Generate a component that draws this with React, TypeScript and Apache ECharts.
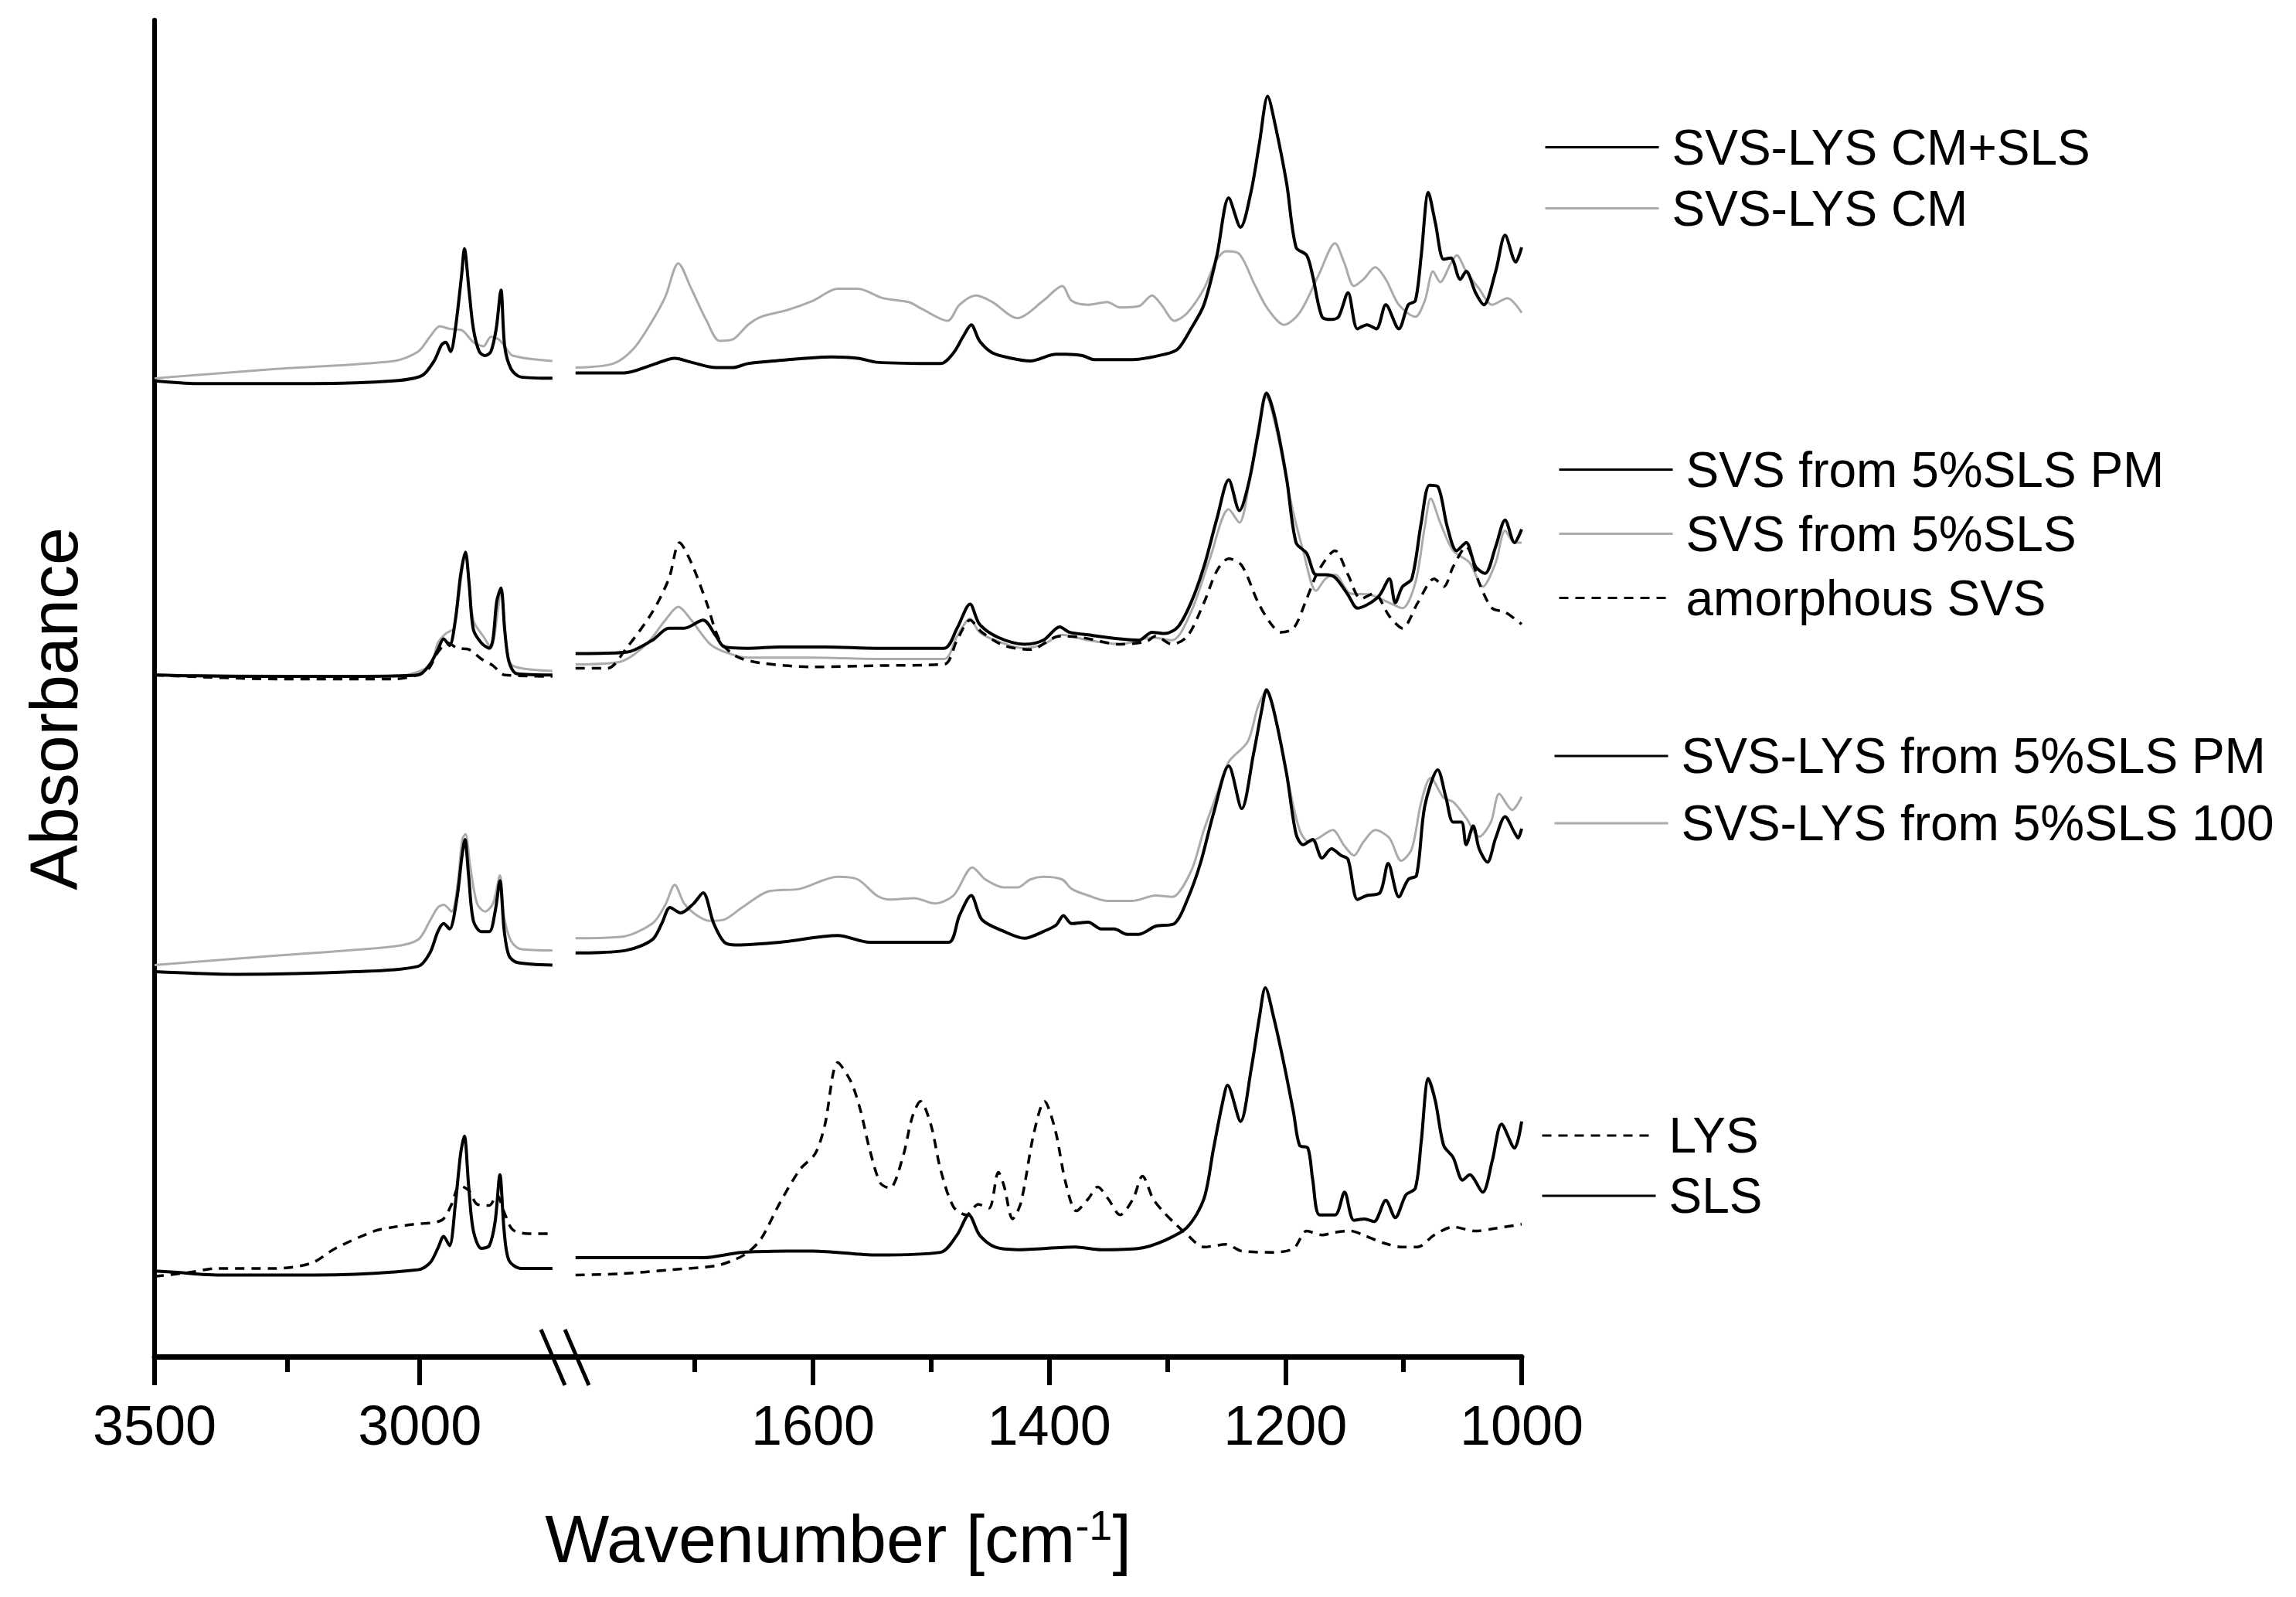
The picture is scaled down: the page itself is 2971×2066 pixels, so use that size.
import React, { useEffect, useRef } from "react";
import * as echarts from "echarts";

// ---------- axis ticks ----------
const highMajorTicks = [3500, 3000];
const highMinorTicks = [3250];
const fingerMajorTicks = [1600, 1400, 1200, 1000];
const fingerMinorTicks = [1700, 1500, 1300, 1100];
const highRange = [2725, 3500];
const fingerRange = [1000, 1810];
const absRange = [0, 10];

// ---------- spectra (wavenumber, offset absorbance) ----------
// SVS-LYS CM+SLS
const cmSlsHigh = [[3500,7.30],[3420,7.28],[3200,7.28],[3050,7.30],[2996,7.34],[2973,7.45],[2959,7.57],[2951,7.59],[2942,7.52],[2933,7.69],[2921,8.10],[2916,8.29],[2907,7.97],[2899,7.69],[2888,7.52],[2877,7.49],[2866,7.52],[2856,7.69],[2847,7.98],[2840,7.56],[2828,7.39],[2810,7.33],[2750,7.32]];
const cmSlsFinger = [[1801,7.36],[1760,7.36],[1736,7.42],[1717,7.47],[1703,7.44],[1682,7.40],[1668,7.40],[1655,7.43],[1633,7.45],[1584,7.48],[1562,7.47],[1546,7.44],[1492,7.43],[1481,7.51],[1473,7.63],[1466,7.72],[1459,7.60],[1448,7.51],[1432,7.47],[1416,7.45],[1394,7.50],[1386,7.50],[1372,7.49],[1362,7.46],[1329,7.46],[1302,7.50],[1291,7.54],[1280,7.69],[1269,7.87],[1258,8.24],[1248,8.67],[1238,8.45],[1229,8.72],[1222,9.08],[1215,9.43],[1209,9.23],[1199,8.78],[1191,8.30],[1182,8.24],[1177,8.09],[1169,7.78],[1161,7.76],[1155,7.78],[1147,7.96],[1139,7.69],[1131,7.72],[1123,7.69],[1115,7.87],[1104,7.69],[1096,7.87],[1090,7.90],[1085,8.24],[1079,8.71],[1073,8.48],[1066,8.21],[1060,8.22],[1052,8.06],[1047,8.12],[1039,7.96],[1032,7.87],[1022,8.12],[1014,8.39],[1005,8.19],[1000,8.30]];
// SVS-LYS CM
const cmHigh = [[3500,7.32],[3271,7.39],[3048,7.45],[3003,7.52],[2981,7.63],[2962,7.71],[2944,7.69],[2921,7.68],[2899,7.59],[2880,7.56],[2866,7.63],[2851,7.61],[2840,7.56],[2825,7.49],[2750,7.45]];
const cmFinger = [[1801,7.40],[1769,7.43],[1752,7.54],[1736,7.75],[1725,7.93],[1714,8.18],[1703,7.99],[1690,7.75],[1679,7.60],[1668,7.61],[1655,7.72],[1644,7.78],[1622,7.83],[1600,7.90],[1579,7.99],[1562,7.99],[1541,7.92],[1519,7.89],[1508,7.84],[1486,7.75],[1476,7.87],[1462,7.94],[1448,7.89],[1427,7.77],[1405,7.90],[1389,8.01],[1381,7.90],[1367,7.87],[1351,7.89],[1340,7.85],[1324,7.86],[1313,7.94],[1305,7.87],[1294,7.75],[1283,7.81],[1269,7.99],[1258,8.21],[1250,8.27],[1239,8.25],[1226,8.02],[1215,7.84],[1201,7.72],[1188,7.81],[1172,8.09],[1158,8.33],[1150,8.18],[1142,8.01],[1134,8.06],[1124,8.15],[1115,8.06],[1104,7.87],[1090,7.78],[1082,7.90],[1075,8.12],[1069,8.04],[1060,8.18],[1055,8.24],[1047,8.12],[1036,7.99],[1025,7.87],[1012,7.92],[1000,7.81]];
// SVS from 5%SLS PM
const svsPmHigh = [[3500,5.10],[3345,5.09],[3122,5.09],[3003,5.10],[2981,5.18],[2966,5.29],[2955,5.37],[2944,5.32],[2933,5.51],[2923,5.85],[2914,6.02],[2907,5.78],[2899,5.44],[2884,5.34],[2869,5.30],[2862,5.37],[2855,5.65],[2847,5.75],[2840,5.44],[2832,5.20],[2817,5.11],[2750,5.10]];
const svsPmFinger = [[1801,5.26],[1758,5.27],[1736,5.36],[1722,5.45],[1709,5.45],[1693,5.51],[1682,5.39],[1675,5.31],[1655,5.30],[1628,5.31],[1590,5.31],[1546,5.30],[1489,5.30],[1478,5.45],[1467,5.63],[1459,5.48],[1443,5.38],[1421,5.33],[1405,5.36],[1391,5.46],[1383,5.42],[1367,5.40],[1340,5.37],[1324,5.36],[1313,5.42],[1302,5.41],[1291,5.46],[1280,5.64],[1269,5.91],[1258,6.27],[1248,6.56],[1239,6.33],[1231,6.54],[1223,6.91],[1216,7.21],[1209,7.03],[1199,6.57],[1191,6.09],[1182,6.01],[1174,5.85],[1166,5.85],[1158,5.83],[1147,5.70],[1139,5.60],[1128,5.64],[1120,5.70],[1112,5.82],[1107,5.64],[1101,5.76],[1093,5.82],[1085,6.24],[1078,6.52],[1071,6.51],[1063,6.21],[1055,6.03],[1047,6.09],[1039,5.91],[1031,5.86],[1022,6.06],[1014,6.26],[1006,6.09],[1000,6.19]];
// SVS from 5%SLS
const svsSlsHigh = [[3500,5.10],[3048,5.09],[2981,5.17],[2966,5.34],[2951,5.41],[2936,5.45],[2914,5.99],[2899,5.51],[2877,5.37],[2866,5.30],[2847,5.71],[2836,5.30],[2825,5.17],[2750,5.13]];
const svsSlsFinger = [[1801,5.18],[1763,5.20],[1741,5.33],[1725,5.51],[1714,5.61],[1703,5.51],[1687,5.33],[1674,5.27],[1655,5.23],[1600,5.23],[1546,5.22],[1489,5.22],[1478,5.39],[1467,5.52],[1459,5.42],[1443,5.35],[1421,5.30],[1405,5.33],[1389,5.40],[1367,5.36],[1340,5.33],[1313,5.38],[1296,5.36],[1280,5.57],[1264,5.97],[1248,6.34],[1239,6.24],[1229,6.63],[1216,7.18],[1207,6.91],[1196,6.42],[1185,6.03],[1174,5.73],[1166,5.82],[1158,5.85],[1145,5.71],[1128,5.70],[1112,5.64],[1101,5.60],[1090,5.79],[1082,6.21],[1077,6.42],[1069,6.24],[1058,6.03],[1044,5.94],[1033,5.76],[1022,5.94],[1014,6.18],[1006,6.09],[1000,6.09]];
// amorphous SVS
const amorphousHigh = [[3500,5.10],[3271,5.07],[3048,5.07],[2988,5.13],[2966,5.27],[2947,5.34],[2929,5.30],[2907,5.29],[2884,5.22],[2862,5.17],[2840,5.10],[2750,5.09]];
const amorphousFinger = [[1801,5.15],[1774,5.15],[1758,5.30],[1736,5.57],[1722,5.82],[1713,6.09],[1703,5.94],[1690,5.64],[1679,5.36],[1665,5.24],[1644,5.19],[1600,5.16],[1546,5.17],[1489,5.18],[1478,5.36],[1467,5.51],[1457,5.42],[1438,5.32],[1416,5.29],[1391,5.39],[1372,5.38],[1340,5.33],[1318,5.35],[1310,5.39],[1296,5.33],[1283,5.39],[1269,5.64],[1258,5.88],[1248,5.97],[1237,5.92],[1223,5.64],[1212,5.48],[1204,5.42],[1193,5.45],[1182,5.67],[1172,5.88],[1158,6.03],[1147,5.85],[1136,5.67],[1125,5.71],[1112,5.54],[1101,5.45],[1088,5.64],[1074,5.82],[1066,5.76],[1058,5.91],[1047,6.06],[1036,5.79],[1025,5.60],[1014,5.57],[1000,5.48]];
// SVS-LYS from 5%SLS PM
const lysPmHigh = [[3500,2.88],[3345,2.86],[3122,2.88],[3003,2.92],[2981,3.02],[2966,3.18],[2955,3.24],[2944,3.20],[2930,3.43],[2921,3.73],[2915,3.87],[2908,3.60],[2899,3.26],[2884,3.18],[2869,3.18],[2858,3.33],[2849,3.56],[2841,3.19],[2832,3.00],[2817,2.95],[2750,2.93]];
const lysPmFinger = [[1801,3.02],[1758,3.04],[1736,3.12],[1728,3.24],[1721,3.36],[1712,3.32],[1701,3.39],[1693,3.47],[1684,3.24],[1675,3.10],[1665,3.08],[1628,3.10],[1579,3.15],[1552,3.10],[1514,3.10],[1485,3.10],[1476,3.30],[1466,3.45],[1457,3.27],[1438,3.18],[1421,3.13],[1405,3.18],[1394,3.23],[1388,3.30],[1381,3.24],[1367,3.25],[1356,3.20],[1345,3.20],[1334,3.16],[1324,3.16],[1310,3.22],[1294,3.24],[1283,3.42],[1272,3.69],[1261,4.06],[1248,4.42],[1237,4.10],[1227,4.51],[1220,4.84],[1216,4.99],[1210,4.84],[1199,4.36],[1191,3.91],[1185,3.83],[1177,3.87],[1169,3.73],[1161,3.80],[1153,3.75],[1147,3.72],[1139,3.42],[1131,3.45],[1120,3.47],[1113,3.69],[1104,3.44],[1096,3.57],[1089,3.60],[1082,4.12],[1071,4.39],[1064,4.18],[1058,4.00],[1051,4.00],[1047,3.83],[1041,3.97],[1036,3.80],[1029,3.70],[1022,3.88],[1014,4.04],[1006,3.92],[1003,3.88],[1000,3.95]];
// SVS-LYS from 5%SLS 100
const lys100High = [[3500,2.93],[3271,3.00],[3048,3.07],[3003,3.12],[2981,3.26],[2966,3.36],[2955,3.38],[2940,3.33],[2929,3.53],[2920,3.87],[2914,3.91],[2905,3.67],[2892,3.39],[2877,3.33],[2862,3.39],[2849,3.60],[2841,3.29],[2828,3.11],[2810,3.05],[2750,3.04]];
const lys100Finger = [[1801,3.13],[1763,3.14],[1736,3.24],[1725,3.38],[1717,3.53],[1709,3.39],[1698,3.30],[1687,3.26],[1675,3.27],[1660,3.36],[1638,3.48],[1611,3.50],[1579,3.59],[1562,3.57],[1546,3.45],[1535,3.42],[1514,3.43],[1497,3.39],[1481,3.45],[1465,3.66],[1454,3.57],[1438,3.51],[1427,3.51],[1416,3.57],[1405,3.59],[1389,3.57],[1381,3.50],[1367,3.45],[1351,3.41],[1329,3.41],[1310,3.45],[1296,3.44],[1280,3.63],[1269,3.94],[1258,4.21],[1248,4.45],[1232,4.60],[1223,4.87],[1216,4.98],[1207,4.72],[1199,4.36],[1188,3.94],[1180,3.85],[1172,3.88],[1160,3.94],[1150,3.82],[1142,3.75],[1134,3.85],[1124,3.94],[1112,3.88],[1102,3.71],[1093,3.80],[1085,4.15],[1077,4.33],[1066,4.18],[1058,4.15],[1047,4.03],[1036,3.89],[1026,4.00],[1019,4.21],[1008,4.09],[1000,4.19]];
// LYS
const lysHigh = [[3500,0.60],[3435,0.63],[3383,0.66],[3271,0.66],[3204,0.70],[3159,0.81],[3085,0.94],[3048,0.97],[3011,0.99],[2959,1.02],[2940,1.14],[2925,1.28],[2907,1.24],[2892,1.14],[2869,1.13],[2855,1.21],[2840,1.07],[2825,0.95],[2795,0.92],[2750,0.92]];
const lysFinger = [[1801,0.61],[1763,0.62],[1720,0.65],[1682,0.68],[1665,0.73],[1655,0.78],[1644,0.88],[1628,1.15],[1611,1.40],[1598,1.52],[1590,1.73],[1579,2.20],[1568,2.06],[1560,1.85],[1552,1.55],[1543,1.30],[1535,1.26],[1524,1.49],[1516,1.79],[1509,1.91],[1500,1.73],[1492,1.40],[1481,1.12],[1470,1.06],[1460,1.14],[1451,1.11],[1443,1.38],[1438,1.27],[1431,1.03],[1424,1.15],[1413,1.67],[1404,1.91],[1395,1.70],[1386,1.30],[1377,1.09],[1367,1.18],[1359,1.27],[1350,1.18],[1340,1.06],[1329,1.18],[1321,1.35],[1312,1.18],[1303,1.08],[1294,1.00],[1283,0.91],[1269,0.82],[1250,0.84],[1237,0.79],[1210,0.78],[1193,0.81],[1182,0.94],[1169,0.91],[1158,0.93],[1145,0.94],[1134,0.91],[1117,0.85],[1101,0.82],[1088,0.82],[1074,0.91],[1058,0.97],[1039,0.94],[1022,0.96],[1000,0.99]];
// SLS
const slsHigh = [[3500,0.64],[3457,0.63],[3383,0.61],[3197,0.61],[3003,0.65],[2981,0.70],[2966,0.81],[2955,0.90],[2944,0.83],[2933,1.14],[2923,1.52],[2916,1.65],[2908,1.28],[2899,0.94],[2884,0.81],[2869,0.83],[2858,1.01],[2849,1.36],[2841,0.94],[2832,0.72],[2810,0.66],[2750,0.66]];
const slsFinger = [[1801,0.74],[1693,0.74],[1660,0.78],[1600,0.79],[1546,0.76],[1492,0.78],[1478,0.91],[1468,1.06],[1459,0.91],[1446,0.82],[1427,0.80],[1378,0.82],[1356,0.80],[1324,0.81],[1302,0.87],[1283,0.97],[1269,1.18],[1261,1.55],[1253,1.91],[1249,2.03],[1238,1.76],[1229,2.15],[1222,2.54],[1217,2.76],[1210,2.54],[1201,2.18],[1193,1.82],[1188,1.58],[1181,1.56],[1177,1.33],[1171,1.06],[1158,1.06],[1150,1.23],[1142,1.02],[1133,1.03],[1125,1.01],[1115,1.17],[1107,1.04],[1098,1.21],[1090,1.26],[1085,1.61],[1079,2.08],[1073,1.91],[1066,1.58],[1058,1.49],[1050,1.32],[1044,1.36],[1033,1.23],[1025,1.46],[1017,1.74],[1006,1.56],[1000,1.76]];

// ---------- legend groups ----------
const legendGroup1 = ["SVS-LYS CM+SLS", "SVS-LYS CM"];
const legendGroup2 = ["SVS from 5%SLS PM", "SVS from 5%SLS", "amorphous SVS"];
const legendGroup3 = ["SVS-LYS from 5%SLS PM", "SVS-LYS from 5%SLS 100"];
const legendGroup4 = ["LYS", "SLS"];

const BLACK = "#000000";
const GRAY = "#ababab";
const FONT = '"Liberation Sans", Arial, Helvetica, sans-serif';

type Spec = { name: string; high: number[][]; finger: number[][]; color: string; width: number; dashed: boolean };
// drawing order: gray first, then dashed, then black
const spectra: Spec[] = [
  { name: "SVS-LYS CM", high: cmHigh, finger: cmFinger, color: GRAY, width: 3, dashed: false },
  { name: "SVS from 5%SLS", high: svsSlsHigh, finger: svsSlsFinger, color: GRAY, width: 3, dashed: false },
  { name: "SVS-LYS from 5%SLS 100", high: lys100High, finger: lys100Finger, color: GRAY, width: 3, dashed: false },
  { name: "amorphous SVS", high: amorphousHigh, finger: amorphousFinger, color: BLACK, width: 3.5, dashed: true },
  { name: "LYS", high: lysHigh, finger: lysFinger, color: BLACK, width: 3.5, dashed: true },
  { name: "SVS-LYS CM+SLS", high: cmSlsHigh, finger: cmSlsFinger, color: BLACK, width: 4, dashed: false },
  { name: "SVS from 5%SLS PM", high: svsPmHigh, finger: svsPmFinger, color: BLACK, width: 4, dashed: false },
  { name: "SVS-LYS from 5%SLS PM", high: lysPmHigh, finger: lysPmFinger, color: BLACK, width: 4, dashed: false },
  { name: "SLS", high: slsHigh, finger: slsFinger, color: BLACK, width: 4, dashed: false },
];

// ---------- layout ----------
const W = 2971;
const H = 2066;
const GRID_TOP = 26;
const GRID_H = 1729;
const G1_LEFT = 200;
const G1_W = 532;
const G2_LEFT = 731;
const G2_W = 1238;
const AXIS_W = 7;

function App() {
  const ref = useRef<HTMLDivElement>(null);
  useEffect(() => {
    if (!ref.current) return;
    const chart = echarts.init(ref.current, undefined, { renderer: "svg" });

    const series: any[] = [];
    spectra.forEach((s) => {
      const lineStyle = { color: s.color, width: s.width, type: s.dashed ? [12, 9] : "solid" };
      const common = {
        type: "line",
        name: s.name,
        symbol: "none",
        smooth: 0.3,
        silent: true,
        lineStyle,
        itemStyle: { color: s.color },
        emphasis: { disabled: true },
      };
      series.push({ ...common, xAxisIndex: 0, yAxisIndex: 0, data: s.high });
      series.push({ ...common, xAxisIndex: 2, yAxisIndex: 1, data: s.finger });
    });

    const labelStyle = {
      fontSize: 72,
      lineHeight: 72,
      color: BLACK,
      fontFamily: FONT,
      margin: 53,
      formatter: (v: number) => String(v),
    };
    const majorAxis = (gridIndex: number, range: number[], ticks: number[]) => ({
      type: "value",
      gridIndex,
      position: "bottom",
      offset: 0,
      inverse: true,
      min: range[0],
      max: range[1],
      axisLine: { show: true, onZero: false, lineStyle: { color: BLACK, width: AXIS_W } },
      axisTick: { show: true, customValues: ticks, length: 37, lineStyle: { color: BLACK, width: 6 } },
      axisLabel: { show: true, customValues: ticks, ...labelStyle },
      splitLine: { show: false },
    });
    const minorAxis = (gridIndex: number, range: number[], ticks: number[]) => ({
      type: "value",
      gridIndex,
      position: "bottom",
      offset: 0,
      inverse: true,
      min: range[0],
      max: range[1],
      axisLine: { show: false, onZero: false },
      axisTick: { show: true, customValues: ticks, length: 20, lineStyle: { color: BLACK, width: 6 } },
      axisLabel: { show: false },
      splitLine: { show: false },
    });

    const legendBase = {
      orient: "vertical",
      selectedMode: false,
      padding: 0,
      itemWidth: 147,
      itemHeight: 2,
      itemStyle: { opacity: 0 },
      lineStyle: { width: 3 },
      textStyle: { fontSize: 64, lineHeight: 64, color: BLACK, fontFamily: FONT, padding: [0, 0, 0, 12] },
    };

    const axisY = GRID_TOP + GRID_H;
    const bx = G2_LEFT;
    const breakMarks = [
      { type: "line", shape: { x1: bx - 31, y1: axisY - 35, x2: bx, y2: axisY + 37 }, style: { stroke: BLACK, lineWidth: 5 } },
      { type: "line", shape: { x1: bx, y1: axisY - 35, x2: bx + 31, y2: axisY + 37 }, style: { stroke: BLACK, lineWidth: 5 } },
    ];

    chart.setOption({
      animation: false,
      backgroundColor: "#ffffff",
      textStyle: { fontFamily: FONT },
      grid: [
        { left: G1_LEFT, top: GRID_TOP, width: G1_W, height: GRID_H, containLabel: false },
        { left: G2_LEFT, top: GRID_TOP, width: G2_W, height: GRID_H, containLabel: false },
      ],
      xAxis: [
        majorAxis(0, highRange, highMajorTicks),
        minorAxis(0, highRange, highMinorTicks),
        majorAxis(1, fingerRange, fingerMajorTicks),
        minorAxis(1, fingerRange, fingerMinorTicks),
      ],
      yAxis: [
        {
          type: "value",
          gridIndex: 0,
          min: absRange[0],
          max: absRange[1],
          axisLine: { show: true, onZero: false, lineStyle: { color: BLACK, width: 6 } },
          axisTick: { show: false },
          axisLabel: { show: false },
          splitLine: { show: false },
        },
        { type: "value", gridIndex: 1, min: absRange[0], max: absRange[1], show: false },
      ],
      legend: [
        { ...legendBase, data: legendGroup1, left: 1998, top: 158.5, itemGap: 15 },
        { ...legendBase, data: legendGroup2, left: 2016, top: 575.5, itemGap: 19 },
        { ...legendBase, data: legendGroup3, left: 2010, top: 946, itemGap: 23 },
        { ...legendBase, data: legendGroup4, left: 1994, top: 1437, itemGap: 14 },
      ],
      graphic: [
        ...breakMarks,
        {
          type: "text",
          x: 69.5,
          y: 917,
          rotation: Math.PI / 2,
          style: { text: "Absorbance", fontSize: 88, fontFamily: FONT, fill: BLACK, align: "center", verticalAlign: "middle" },
        },
        {
          type: "text",
          x: (G1_LEFT + G2_LEFT + G2_W) / 2,
          y: 1990,
          style: {
            text: "{a|Wavenumber [cm}{s|-1}{a|]}",
            align: "center",
            verticalAlign: "middle",
            fill: BLACK,
            rich: {
              a: { fontSize: 88, lineHeight: 88, fontFamily: FONT, fill: BLACK, verticalAlign: "bottom" },
              s: { fontSize: 54, lineHeight: 24, fontFamily: FONT, fill: BLACK, verticalAlign: "top" },
            },
          },
        },
      ],
      series,
    });

    return () => chart.dispose();
  }, []);

  return (
    <div
      ref={ref}
      style={{ position: "absolute", left: 0, top: 0, width: W, height: H, background: "#ffffff" }}
    />
  );
}

export default App;
